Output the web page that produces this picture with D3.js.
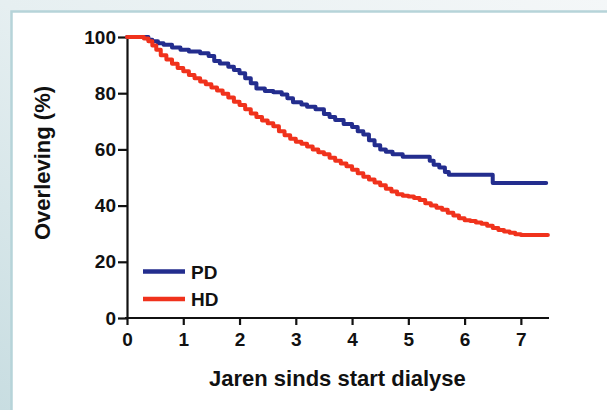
<!DOCTYPE html>
<html>
<head>
<meta charset="utf-8">
<script src="https://cdn.jsdelivr.net/npm/d3@7"></script>
<style>
  body { margin: 0; }
  text { font-family: "Liberation Sans", Arial, sans-serif; font-weight: bold; fill: #111; }
</style>
</head>
<body>
<div id="chart"></div>
<script>
// Kaplan-Meier steps: [years, survival %]
var pd_data = [[0,100],[0.38,99],[0.45,98.5],[0.55,97.8],[0.65,97.2],[0.8,96.3],[0.95,95.5],[1.1,94.8],
  [1.3,94.2],[1.45,93.2],[1.55,91.5],[1.65,90.6],[1.8,89.4],[1.9,88.3],[2.0,87.1],[2.1,85.3],[2.2,83.5],
  [2.3,81.7],[2.45,80.8],[2.6,80.3],[2.75,79.5],[2.85,78.2],[2.95,76.8],[3.1,76],[3.2,75.2],[3.35,74.3],
  [3.5,72.6],[3.6,71.5],[3.7,70.5],[3.85,69],[4.0,68],[4.1,66.5],[4.2,65.3],[4.3,63.3],[4.4,61.5],[4.5,60],
  [4.6,59.2],[4.72,58.3],[4.9,57.4],[5.38,56],[5.45,54.5],[5.55,53.6],[5.65,52],[5.72,51],[6.5,48],[7.45,48]];

var hd_data = [[0,100],[0.3,99.5],[0.38,98.5],[0.45,97],[0.52,95.5],[0.6,93.5],[0.7,92],[0.8,90.5],[0.9,89],
  [1.0,87.8],[1.1,86.5],[1.2,85.3],[1.3,84.2],[1.4,83.2],[1.5,82],[1.6,81],[1.7,79.8],[1.8,78.5],[1.9,77],
  [2.0,75.8],[2.1,74.3],[2.2,72.8],[2.3,71.5],[2.4,70.3],[2.5,69.3],[2.6,68.2],[2.7,66.5],[2.8,65],[2.9,63.8],
  [3.0,62.7],[3.1,62],[3.2,61],[3.3,60],[3.4,59],[3.5,58.3],[3.6,57],[3.7,56],[3.8,55],[3.9,54],[4.0,52.8],
  [4.1,51.5],[4.2,50.3],[4.3,49.3],[4.4,48.2],[4.5,47.2],[4.6,46],[4.7,45],[4.8,44],[4.9,43.5],[5.0,43.2],
  [5.1,42.7],[5.2,42],[5.3,40.8],[5.4,40],[5.5,39.2],[5.6,38.5],[5.7,37.5],[5.8,36.5],[5.9,35.5],[6.0,34.8],
  [6.1,34.5],[6.2,34],[6.3,33.5],[6.4,32.8],[6.5,32],[6.6,31.3],[6.7,30.8],[6.8,30.3],[6.9,29.8],[7.0,29.5],[7.48,29.5]];

var series_names = ["PD", "HD"];
var series_colors = ["#232d8e", "#f0321c"];
var x_ticks = [0,1,2,3,4,5,6,7];
var y_ticks = [0,20,40,60,80,100];

var W = 607, H = 410;

var svg = d3.select("#chart").append("svg")
  .attr("width", W)
  .attr("height", H);

// background + panel
var grad = svg.append("defs").append("linearGradient")
  .attr("id", "bg").attr("x1", "1").attr("y1", "0").attr("x2", "0").attr("y2", "1");
grad.append("stop").attr("offset", "0").attr("stop-color", "#f4f7f8");
grad.append("stop").attr("offset", "0.5").attr("stop-color", "#e6eff1");
grad.append("stop").attr("offset", "1").attr("stop-color", "#c8dde1");

svg.append("rect").attr("width", W).attr("height", H).attr("fill", "url(#bg)");
svg.append("rect")
  .attr("x", 11.5).attr("y", 11.5)
  .attr("width", W + 20).attr("height", H + 20)
  .attr("fill", "#fff")
  .attr("stroke", "#b6d4d9")
  .attr("stroke-width", 2.5);

var x = d3.scaleLinear().domain([0, 7.5]).range([127, 549]);
var y = d3.scaleLinear().domain([0, 100]).range([318, 37]);

var xAxis = svg.append("g")
  .attr("transform", "translate(0," + y(0) + ")")
  .call(d3.axisBottom(x).tickValues(x_ticks).tickSize(7).tickPadding(8).tickSizeOuter(0));

var yAxis = svg.append("g")
  .attr("transform", "translate(" + x(0) + ",0)")
  .call(d3.axisLeft(y).tickValues(y_ticks).tickSize(9).tickPadding(2).tickSizeOuter(0));

[xAxis, yAxis].forEach(function(a){
  a.select(".domain").attr("stroke", "#111").attr("stroke-width", 2.2);
  a.selectAll(".tick line").attr("stroke", "#111").attr("stroke-width", 2.2);
  a.selectAll(".tick text").attr("font-size", 19).attr("font-family", null).attr("fill", "#111");
});
xAxis.select(".domain").attr("d", "M" + (x(0) - 2) + ",0H" + x(7.5));

// curves (HD drawn last, it sits on top where they overlap)
var line = d3.line()
  .x(d => x(d[0]))
  .y(d => y(d[1]))
  .curve(d3.curveStepAfter);

svg.append("g")
  .selectAll("path")
  .data([pd_data, hd_data])
  .join("path")
    .attr("fill", "none")
    .attr("stroke", (d, i) => series_colors[i])
    .attr("stroke-width", 4)
    .attr("stroke-linejoin", "round")
    .attr("stroke-linecap", "round")
    .attr("d", line);

// legend
var legend = svg.append("g");
series_names.forEach(function(name, i){
  var ly = 271.5 + i * 27.5;
  legend.append("line")
    .attr("x1", 143).attr("x2", 185)
    .attr("y1", ly).attr("y2", ly)
    .attr("stroke", series_colors[i])
    .attr("stroke-width", 4.5);
  legend.append("text")
    .attr("x", 191)
    .attr("y", ly + 7)
    .attr("font-size", 19)
    .text(name);
});

// axis titles
svg.append("text")
  .attr("x", x(3.74))
  .attr("y", 386)
  .attr("text-anchor", "middle")
  .attr("font-size", 22)
  .text("Jaren sinds start dialyse");

svg.append("text")
  .attr("transform", "translate(50,163) rotate(-90)")
  .attr("text-anchor", "middle")
  .attr("font-size", 22)
  .text("Overleving (%)");
</script>
</body>
</html>
